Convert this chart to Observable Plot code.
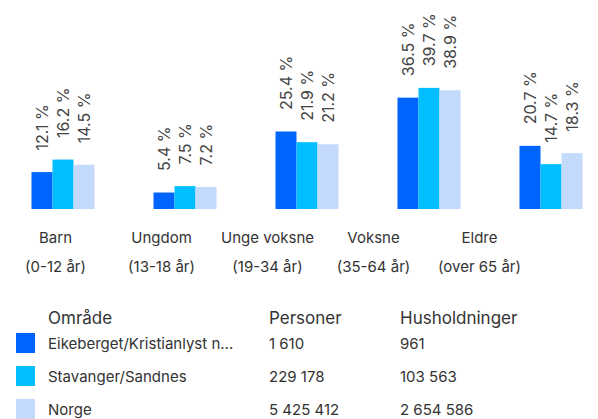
<!DOCTYPE html>
<html>
<head>
<meta charset="utf-8">
<script src="https://cdn.jsdelivr.net/npm/d3@7"></script>
<script src="https://cdn.jsdelivr.net/npm/@observablehq/plot@0.6"></script>
<style>
  html, body { margin: 0; padding: 0; background: #fff; width: 598px; height: 419px; overflow: hidden; font-family: Inter, "Noto Sans", sans-serif; }
  #chart svg, #cats svg { display: block; }
  #legend { position: relative; height: 129px; color: #333; }
  .row { position: absolute; left: 0; width: 598px; }
  .cell { position: absolute; top: 0; white-space: nowrap; }
  .sw { position: absolute; left: 16px; width: 19px; height: 20px; }
</style>
</head>
<body>
<div id="chart"></div>
<div id="cats"></div>
<div id="legend"></div>
<script>
const categories = ["Barn", "Ungdom", "Unge voksne", "Voksne", "Eldre"];
const categoryRanges = ["(0-12 år)", "(13-18 år)", "(19-34 år)", "(35-64 år)", "(over 65 år)"];
const series = ["Eikeberget/Kristianlyst n...", "Stavanger/Sandnes", "Norge"];
const colors = ["#0064ff", "#00beff", "#c4dafd"];
const eikeberget = [12.1, 5.4, 25.4, 36.5, 20.7];
const stavanger = [16.2, 7.5, 21.9, 39.7, 14.7];
const norge = [14.5, 7.2, 21.2, 38.9, 18.3];
const personer = ["1 610", "229 178", "5 425 412"];
const husholdninger = ["961", "103 563", "2 654 586"];
const headers = ["Område", "Personer", "Husholdninger"];

const valuesBySeries = [eikeberget, stavanger, norge];
const data = [];
categories.forEach((c, i) => {
  series.forEach((s, j) => {
    data.push({category: c, series: s, value: valuesBySeries[j][i]});
  });
});

const fmt = v => v.toFixed(1) + " %";

const chart = Plot.plot({
  width: 598,
  height: 220,
  marginTop: 0,
  marginBottom: 11,
  marginLeft: 29.5,
  marginRight: 15,
  style: {fontFamily: "Inter, sans-serif", background: "#fff"},
  facet: {data, x: "category"},
  fx: {domain: categories, paddingInner: 0.47, paddingOuter: 0, axis: null, label: null},
  x: {domain: series, padding: 0, axis: null},
  y: {domain: [0, 68.5], axis: null},
  color: {domain: series, range: colors},
  marks: [
    Plot.barY(data, {x: "series", y: "value", fill: "series"}),
    Plot.text(data, {
      x: "series", y: "value", text: d => fmt(d.value),
      rotate: -90, textAnchor: "start", dy: -22,
      fontSize: 16, fill: "#444"
    })
  ]
});
document.getElementById("chart").appendChild(chart);

const catData = categories.map((c, i) => ({category: c, label: c + "\n" + categoryRanges[i]}));
const cats = Plot.plot({
  width: 598,
  height: 70,
  marginTop: 0, marginBottom: 0, marginLeft: 0, marginRight: 64,
  style: {fontFamily: "Inter, sans-serif", background: "#fff"},
  x: {domain: categories, padding: 0.5, axis: null},
  marks: [
    Plot.text(catData, {x: "category", frameAnchor: "middle", dy: -7, text: "label", fontSize: 15, lineHeight: 1.87, fill: "#333"})
  ]
});
document.getElementById("cats").appendChild(cats);

// Legend table
const legend = document.getElementById("legend");
const colX = [48, 269, 400];
const header = document.createElement("div");
header.className = "row";
header.style.top = "19.5px";
header.style.height = "17px";
header.style.lineHeight = "17px";
header.style.fontSize = "17px";
headers.forEach((h, k) => {
  const c = document.createElement("div");
  c.className = "cell";
  c.style.left = colX[k] + "px";
  c.textContent = h;
  header.appendChild(c);
});
legend.appendChild(header);
series.forEach((s, j) => {
  const r = document.createElement("div");
  r.className = "row";
  r.style.top = (36.5 + j * 33) + "px";
  r.style.height = "33px";
  r.style.lineHeight = "33px";
  r.style.fontSize = "15px";
  const sw = document.createElement("div");
  sw.className = "sw";
  sw.style.top = "6.5px";
  sw.style.background = colors[j];
  r.appendChild(sw);
  [s, personer[j], husholdninger[j]].forEach((t, k) => {
    const c = document.createElement("div");
    c.className = "cell";
    c.style.left = colX[k] + "px";
    c.textContent = t;
    r.appendChild(c);
  });
  legend.appendChild(r);
});
</script>
</body>
</html>
